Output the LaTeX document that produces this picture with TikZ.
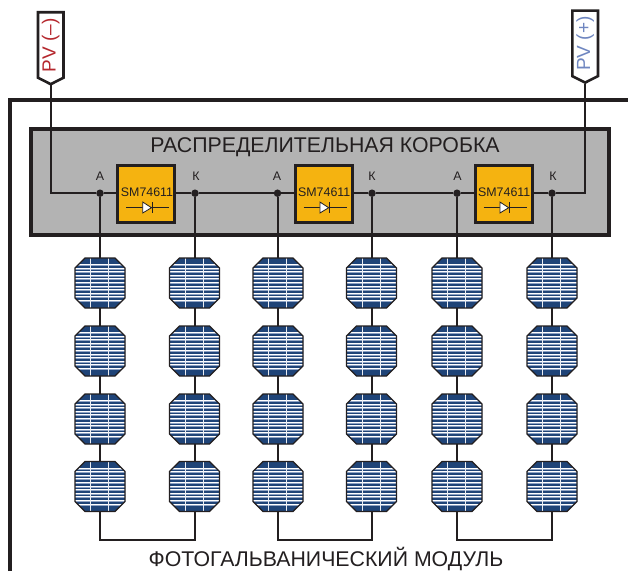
\documentclass[tikz,border=0pt]{standalone}
\usepackage{fontspec}
\setmainfont{Liberation Sans}
\definecolor{frameK}{HTML}{231F20}
\definecolor{boxgrey}{HTML}{B3B3B3}
\definecolor{chip}{HTML}{F5B310}
\definecolor{cellblue}{HTML}{1F4478}
\definecolor{cellstripe}{HTML}{8FA3C4}
\definecolor{pvred}{HTML}{B5272D}
\definecolor{pvblue}{HTML}{6F86C0}
\tikzset{
  wire/.style={draw=frameK,line width=2pt},
  dot/.style={circle,fill=frameK,inner sep=0pt,minimum size=7.5pt},
  chipbox/.style={draw=frameK,line width=3pt,fill=chip,minimum width=57pt,minimum height=57pt,inner sep=0pt},
  cellnode/.style={minimum width=50pt,minimum height=50pt,inner sep=0pt,outer sep=0pt},
  flag/.style={draw=frameK,line width=2.6pt,fill=white,line join=miter},
  lbl/.style={font=\fontsize{12.4}{14}\selectfont,text=frameK,inner sep=0pt},
  big/.style={font=\fontsize{21.3}{24}\selectfont,text=frameK,inner sep=0pt},
}
\newcommand{\pvflag}[6]{% name x-left x-right y-top color text
  \path[flag] (#2,#4) -- (#3,#4) -- (#3,#4+65.5) -- (#2/2+#3/2,#4+72) -- (#2,#4+65.5) -- cycle;
  \coordinate (#1) at (#2/2+#3/2,#4+73);
  \node[rotate=90,text=#5,font=\fontsize{19}{22}\selectfont,inner sep=0pt] (#1t) at (#2/2+#3/2,#4+33) {#6};
}
\newcommand{\chipunit}[2]{% name x-centre
  \node[chipbox] (#1) at (#2,193.5) {};
  \node[font=\fontsize{12.4}{14}\selectfont,text=frameK,inner sep=0pt] (#1t) at (#2+.7,192.3) {SM74611};
  \draw[draw=frameK,line width=.7pt] (#2-20,207.7) -- (#2+23,207.7);
  \draw[draw=frameK,fill=white,line width=.8pt] (#2-3.6,202) -- (#2+5.2,207.7) -- (#2-3.6,213) -- cycle;
  \draw[draw=frameK,line width=.9pt] (#2+6.4,202) -- (#2+6.4,213);
}
\newcommand{\pvcell}[3]{% name x y
  \node[cellnode] (#1) at (#2,#3) {};
  \begin{scope}[shift={(#2,#3)}]
    \path[fill=cellblue] (-15,-25)--(15,-25)--(25,-15)--(25,15)--(15,25)--(-15,25)--(-25,15)--(-25,-15)--cycle;
    \begin{scope}
      \clip (-15,-25)--(15,-25)--(25,-15)--(25,15)--(15,25)--(-15,25)--(-25,15)--(-25,-15)--cycle;
      \foreach \yy in {-19,-15.4,-11.8,-8.2,-4.6,-1,2.6,6.2,9.8,13.4,17}{
        \fill[white] (-26,\yy) rectangle (26,\yy+1);
        \fill[cellstripe] (-26,\yy+1) rectangle (26,\yy+2);
      }
      \fill[white!82!cellstripe] (-9.9,-26) rectangle (-8.6,26);
      \fill[white!82!cellstripe] (8.1,-26) rectangle (9.4,26);
    \end{scope}
    \draw[frameK,line width=1.3pt] (-15,-25)--(15,-25)--(25,-15)--(25,15)--(15,25)--(-15,25)--(-25,15)--(-25,-15)--cycle;
  \end{scope}
}
\begin{document}
\begin{tikzpicture}[x=1pt,y=-1pt]
\useasboundingbox (0,0) rectangle (628,571);
\fill[white] (0,0) rectangle (628,571);
% module frame
\draw[frameK,line width=4pt] (9.5,571) -- (9.5,99.5) -- (628,99.5);
% junction box
\node[draw=frameK,line width=4pt,fill=boxgrey,minimum width=577.7pt,minimum height=106pt,inner sep=0pt] (jbox) at (319.85,182) {};
\node[big] (title) at (325,147.5) {РАСПРЕДЕЛИТЕЛЬНАЯ КОРОБКА};
% dots
\node[dot] (a1) at (100,193.2) {};
\node[dot] (k1) at (195,193.2) {};
\node[dot] (a2) at (277.5,193.2) {};
\node[dot] (k2) at (372,193.2) {};
\node[dot] (a3) at (457,193.2) {};
\node[dot] (k3) at (552,193.2) {};
\node[lbl] (la1) at (100,176) {А};
\node[lbl] (lk1) at (196,176) {К};
\node[lbl] (la2) at (277,176) {А};
\node[lbl] (lk2) at (372,176) {К};
\node[lbl] (la3) at (457.5,176) {А};
\node[lbl] (lk3) at (553,176) {К};
% flags
\pvflag{pvm}{38}{63.5}{12.2}{pvred}{PV (–)}
\pvflag{pvp}{572.3}{598}{10.6}{pvblue}{PV (+)}
% cells
\foreach \n/\x in {1/100,2/194.5,3/278,4/371.5,5/457,6/552}{
  \foreach \m/\y in {1/283,2/351,3/419,4/486.5}{
    \pvcell{c\n\m}{\x}{\y}
  }
}
\draw[wire] (pvm) |- (a1);
\draw[wire] (pvp) |- (k3);
\draw[wire] (a1) -- (k1);
\draw[wire] (k1) -- (a2);
\draw[wire] (a2) -- (k2);
\draw[wire] (k2) -- (a3);
\draw[wire] (a3) -- (k3);
\chipunit{u1}{146.3}
\chipunit{u2}{323.5}
\chipunit{u3}{503.5}
% vertical strings
\foreach \n/\d in {1/a1,2/k1,3/a2,4/k2,5/a3,6/k3}{
  \draw[wire] (\d) -- (\d |- c\n1.north);
  \draw[wire] (c\n1.south) -- (c\n2.north);
  \draw[wire] (c\n2.south) -- (c\n3.north);
  \draw[wire] (c\n3.south) -- (c\n4.north);
}
\coordinate (b1) at (100,540);
\draw[wire] (c14.south) -- (c14.south |- b1) -| (c24.south);
\draw[wire] (c34.south) -- (c34.south |- b1) -| (c44.south);
\draw[wire] (c54.south) -- (c54.south |- b1) -| (c64.south);
\node[big] (foot) at (326,559) {ФОТОГАЛЬВАНИЧЕСКИЙ МОДУЛЬ};
\end{tikzpicture}
\end{document}
